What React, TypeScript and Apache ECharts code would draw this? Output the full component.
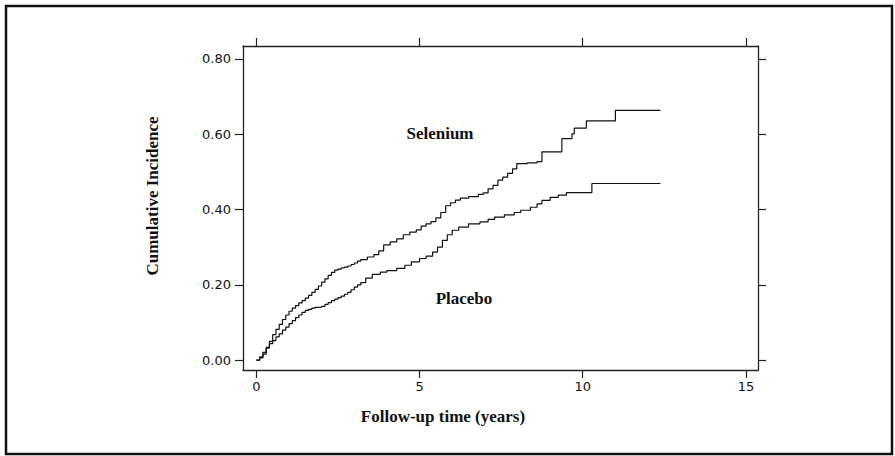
import React, { useEffect, useRef } from "react";
import * as echarts from "echarts";

const xTicks = [0, 5, 10, 15];
const yTicks = [0, 0.2, 0.4, 0.6, 0.8];

const seleniumTime = [
  0, 0.1, 0.2, 0.3, 0.4, 0.5, 0.6, 0.7, 0.8, 0.9, 1.0, 1.1, 1.2, 1.3, 1.4, 1.5, 1.6, 1.7, 1.8, 1.9,
  2.0, 2.1, 2.2, 2.3, 2.4, 2.5, 2.6, 2.7, 2.8, 2.9, 3.0, 3.1, 3.2,
  3.4, 3.6, 3.75, 3.9, 4.1, 4.3, 4.5, 4.7, 4.9, 5.05, 5.2, 5.35, 5.5, 5.65, 5.8, 5.95, 6.1, 6.25, 6.5, 6.8,
  6.95, 7.1, 7.25, 7.4, 7.55, 7.7, 7.85, 7.98, 8.3, 8.6, 8.75, 9.36, 9.67, 9.74, 10.11, 11.0, 12.38,
];
const seleniumValue = [
  0, 0.006, 0.016, 0.032, 0.05, 0.068, 0.082, 0.095, 0.108, 0.12, 0.13, 0.138, 0.145, 0.152, 0.158, 0.165, 0.172, 0.18, 0.188, 0.197,
  0.207, 0.216, 0.225, 0.233, 0.239, 0.242, 0.245, 0.247, 0.25, 0.254, 0.258, 0.263, 0.267,
  0.274, 0.28, 0.29, 0.306, 0.314, 0.322, 0.333, 0.34, 0.346, 0.356, 0.362, 0.368, 0.378, 0.392, 0.41, 0.418, 0.425, 0.43, 0.434, 0.44,
  0.444, 0.455, 0.464, 0.478, 0.486, 0.496, 0.508, 0.522, 0.524, 0.527, 0.553, 0.588, 0.601, 0.616, 0.635, 0.663, 0.663,
];

const placeboTime = [
  0, 0.1, 0.2, 0.3, 0.4, 0.5, 0.6, 0.7, 0.8, 0.9, 1.0, 1.1, 1.2, 1.3, 1.4, 1.5, 1.6, 1.7, 1.8, 1.9,
  2.0, 2.1, 2.2, 2.3, 2.4, 2.5, 2.6, 2.7, 2.8, 2.9, 3.0, 3.1, 3.2, 3.35,
  3.55, 3.8, 4.0, 4.3, 4.55, 4.75, 5.0, 5.2, 5.4, 5.55, 5.7, 5.85, 6.0, 6.2, 6.5, 6.85, 7.1, 7.3, 7.6, 7.9,
  8.1, 8.4, 8.6, 8.75, 9.0, 9.25, 9.5, 10.28, 12.38,
];
const placeboValue = [
  0, 0.009, 0.021, 0.034, 0.044, 0.052, 0.062, 0.07, 0.08, 0.088, 0.097, 0.105, 0.113, 0.12, 0.127, 0.132, 0.135, 0.138, 0.14, 0.141,
  0.143, 0.148, 0.153, 0.158, 0.162, 0.166, 0.17, 0.175, 0.18, 0.187, 0.194, 0.2, 0.206, 0.218,
  0.228, 0.234, 0.238, 0.244, 0.252, 0.261, 0.27, 0.276, 0.287, 0.3, 0.318, 0.333, 0.345, 0.353, 0.362, 0.367, 0.374, 0.38, 0.386, 0.392,
  0.398, 0.406, 0.415, 0.424, 0.432, 0.438, 0.445, 0.469, 0.469,
];

const pairs = (t: number[], v: number[]) => t.map((x, i) => [x, v[i]]);

const tickFont = { fontFamily: "DejaVu Sans", fontSize: 13, color: "#111" };
const titleFont = "Liberation Serif";

export default function App() {
  const ref = useRef<HTMLDivElement>(null);
  useEffect(() => {
    if (!ref.current) return;
    const chart = echarts.init(ref.current, undefined, { renderer: "svg" });
    const axisLine = { show: true, onZero: false, lineStyle: { color: "#222", width: 1.3 } };
    const tick = (vals: number[]) => ({
      show: true,
      inside: false,
      length: 8,
      customValues: vals,
      lineStyle: { color: "#222", width: 1.2 },
    });
    chart.setOption({
      animation: false,
      backgroundColor: "#fff",
      grid: { left: 243, top: 46, right: 137, bottom: 86, containLabel: false },
      xAxis: [
        {
          type: "value",
          position: "bottom",
          min: -0.41,
          max: 15.37,
          axisLine,
          axisTick: tick(xTicks),
          axisLabel: { ...tickFont, margin: 10, customValues: xTicks, formatter: (v: number) => String(v) },
          splitLine: { show: false },
        },
        {
          type: "value",
          position: "top",
          min: -0.41,
          max: 15.37,
          axisLine,
          axisTick: tick(xTicks),
          axisLabel: { show: false },
          splitLine: { show: false },
        },
      ],
      yAxis: [
        {
          type: "value",
          position: "left",
          min: -0.026,
          max: 0.834,
          axisLine,
          axisTick: tick(yTicks),
          axisLabel: { ...tickFont, margin: 12, customValues: yTicks, formatter: (v: number) => v.toFixed(2) },
          splitLine: { show: false },
        },
        {
          type: "value",
          position: "right",
          min: -0.026,
          max: 0.834,
          axisLine,
          axisTick: tick(yTicks),
          axisLabel: { show: false },
          splitLine: { show: false },
        },
      ],
      series: [
        {
          name: "Selenium",
          type: "line",
          step: "end",
          showSymbol: false,
          data: pairs(seleniumTime, seleniumValue),
          lineStyle: { color: "#111", width: 1.2 },
        },
        {
          name: "Placebo",
          type: "line",
          step: "end",
          showSymbol: false,
          data: pairs(placeboTime, placeboValue),
          lineStyle: { color: "#111", width: 1.2 },
        },
      ],
      graphic: [
        {
          type: "rect",
          shape: { x: 6, y: 6, width: 886, height: 448 },
          style: { fill: "none", stroke: "#111", lineWidth: 2.5 },
          silent: true,
        },
        {
          type: "text",
          x: 440,
          y: 133,
          style: { text: "Selenium", font: `bold 17px "${titleFont}"`, fill: "#111", align: "center", verticalAlign: "middle" },
        },
        {
          type: "text",
          x: 464,
          y: 298,
          style: { text: "Placebo", font: `bold 17px "${titleFont}"`, fill: "#111", align: "center", verticalAlign: "middle" },
        },
        {
          type: "text",
          x: 443,
          y: 416,
          style: { text: "Follow-up time (years)", font: `bold 17px "${titleFont}"`, fill: "#111", align: "center", verticalAlign: "middle" },
        },
        {
          type: "text",
          x: 152,
          y: 196,
          rotation: Math.PI / 2,
          style: { text: "Cumulative Incidence", font: `bold 17px "${titleFont}"`, fill: "#111", align: "center", verticalAlign: "middle" },
        },
      ],
    });
    return () => chart.dispose();
  }, []);
  return <div ref={ref} style={{ width: 895, height: 456, position: "fixed", left: 0, top: 0 }} />;
}
